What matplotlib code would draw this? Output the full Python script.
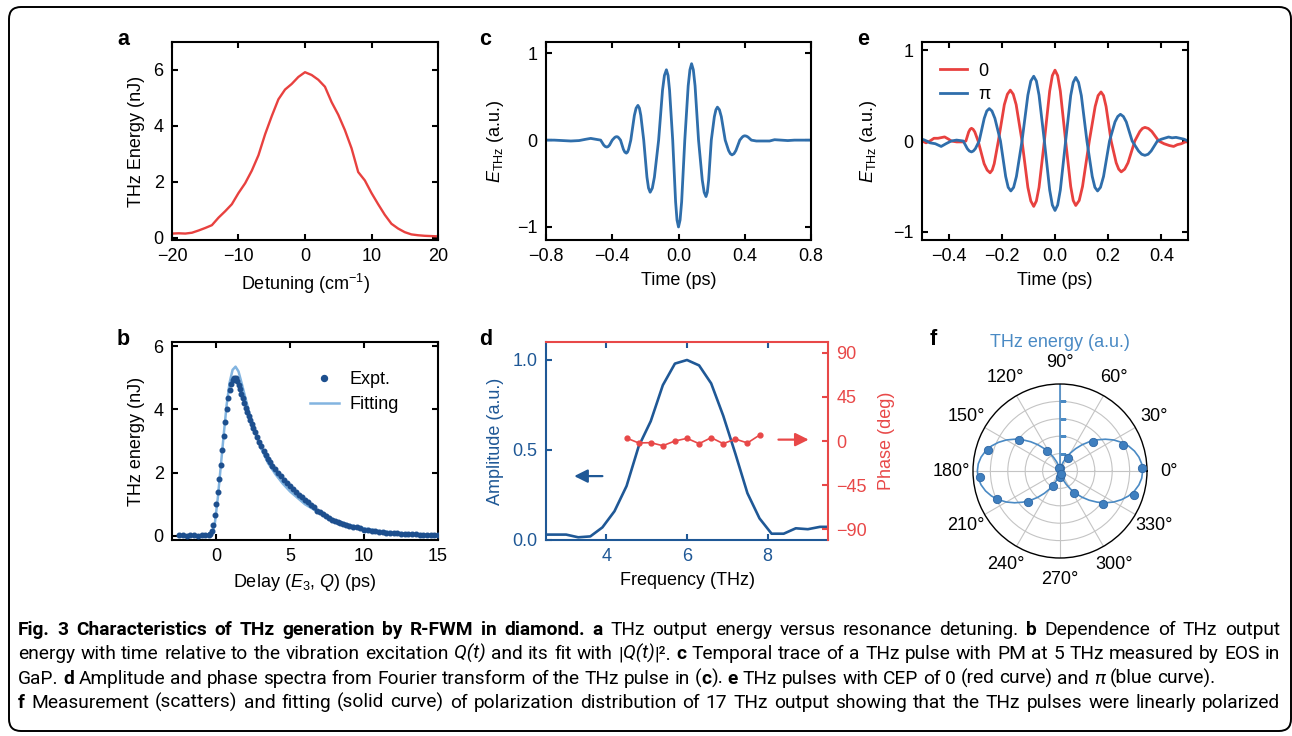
import re
import matplotlib
matplotlib.use("Agg")
import matplotlib.pyplot as plt
import numpy as np
from matplotlib import font_manager as fm
from matplotlib.patches import FancyBboxPatch
from matplotlib.transforms import IdentityTransform

# ---------------- data ----------------
# (a) THz energy vs detuning
a_detuning = [-20, -19, -18, -17, -16, -15, -14, -13, -12, -11, -10, -9, -8, -7, -6, -5, -4, -3, -2, -1,
              0, 1, 2, 3, 4, 5, 6, 7, 8, 9, 10, 11, 12, 13, 14, 15, 16, 17, 18, 19, 20]
a_energy = [0.15, 0.16, 0.15, 0.18, 0.26, 0.35, 0.45, 0.72, 0.95, 1.2, 1.6, 1.95, 2.4, 2.95, 3.7, 4.35, 4.95, 5.3, 5.5, 5.75,
            5.92, 5.82, 5.65, 5.4, 4.85, 4.4, 3.85, 3.2, 2.35, 2.05, 1.6, 1.2, 0.82, 0.5, 0.33, 0.2, 0.12, 0.09, 0.07, 0.06, 0.05]

# (b) THz energy vs delay: experiment and fit
b_delay = [-2.5, -2.25, -2.0, -1.75, -1.5, -1.25, -1.0, -0.75, -0.5, -0.4,
           -0.3, -0.2, -0.1, 0.0, 0.1, 0.2, 0.3, 0.4, 0.5, 0.6,
           0.7, 0.8, 0.9, 1.0, 1.1, 1.2, 1.3, 1.4, 1.5, 1.6,
           1.7, 1.8, 1.9, 2.0, 2.1, 2.2, 2.3, 2.4, 2.5, 2.6,
           2.75, 2.9, 3.05, 3.2, 3.35, 3.5, 3.65, 3.8, 4.0, 4.2,
           4.4, 4.6, 4.8, 5.0, 5.2, 5.4, 5.6, 5.8, 6.0, 6.2,
           6.4, 6.6, 6.8, 7.0, 7.2, 7.4, 7.6, 7.8, 8.0, 8.2,
           8.4, 8.6, 8.8, 9.0, 9.25, 9.5, 9.75, 10.0, 10.25, 10.5,
           10.75, 11.0, 11.25, 11.5, 11.75, 12.0, 12.25, 12.5, 12.75, 13.0,
           13.25, 13.5, 13.75, 14.0, 14.25, 14.5, 14.75, 15.0]
b_expt = [0.02, 0.02, 0.01, 0.02, 0.02, 0.01, 0.02, 0.02, 0.03, 0.06,
          0.15, 0.35, 0.65, 1.0, 1.38, 1.8, 2.25, 2.7, 3.15, 3.6,
          4.0, 4.35, 4.6, 4.8, 4.93, 5.0, 4.98, 4.9, 4.78, 4.64,
          4.5, 4.37, 4.2, 4.05, 3.93, 3.8, 3.66, 3.53, 3.42, 3.3,
          3.14, 2.98, 2.83, 2.68, 2.55, 2.44, 2.33, 2.22, 2.1, 1.98,
          1.88, 1.78, 1.67, 1.58, 1.48, 1.40, 1.30, 1.22, 1.14, 1.06,
          0.98, 0.9, 0.8, 0.74, 0.68, 0.62, 0.56, 0.5, 0.46, 0.43,
          0.4, 0.37, 0.34, 0.3, 0.28, 0.27, 0.24, 0.2, 0.18, 0.16,
          0.14, 0.12, 0.12, 0.1, 0.1, 0.09, 0.08, 0.07, 0.06, 0.06,
          0.05, 0.05, 0.04, 0.04, 0.03, 0.03, 0.03, 0.02]
b_fit_delay = [-2.5, -0.5, -0.3, -0.1, 0.1, 0.3, 0.5, 0.7, 0.9, 1.1, 1.3, 1.5, 1.7, 2.0, 2.3, 2.6,
               3.0, 3.5, 4.0, 4.5, 5.0, 5.5, 6.0, 7.0, 8.0, 9.0, 10.0, 11.0, 12.0, 13.0, 14.0, 15.0]
b_fit = [0.0, 0.0, 0.05, 0.4, 1.2, 2.2, 3.2, 4.15, 4.85, 5.25, 5.35, 5.2, 4.85, 4.3, 3.75, 3.3,
         2.8, 2.3, 1.95, 1.65, 1.4, 1.2, 1.0, 0.72, 0.5, 0.35, 0.24, 0.16, 0.11, 0.07, 0.05, 0.03]

# (c) THz pulse waveform
c_time = [-0.80, -0.75, -0.70, -0.65, -0.60, -0.56, -0.53, -0.50, -0.47,
          -0.4515, -0.442, -0.433, -0.425, -0.4165, -0.40,
          -0.3865, -0.380, -0.373, -0.367, -0.3615, -0.35,
          -0.3325, -0.324, -0.315, -0.308, -0.3015, -0.288,
          -0.2665, -0.256, -0.245, -0.236, -0.2275, -0.21,
          -0.1905, -0.181, -0.171, -0.158, -0.1455, -0.12,
          -0.0965, -0.085, -0.073, -0.063, -0.054, -0.035,
          -0.0175, -0.009, 0.0, 0.0095, 0.019, 0.038,
          0.0585, 0.069, 0.079, 0.0895, 0.100, 0.121,
          0.1435, 0.155, 0.166, 0.174, 0.182, 0.198,
          0.2165, 0.226, 0.235, 0.247, 0.2585, 0.282,
          0.3025, 0.313, 0.323, 0.335, 0.3465, 0.37,
          0.385, 0.3925, 0.40, 0.41, 0.42, 0.44,
          0.47, 0.50, 0.55, 0.58, 0.62, 0.66, 0.70, 0.75, 0.80]
c_field = [0.0, 0.0, -0.005, -0.01, -0.005, 0.01, 0.02, 0.01, 0.0,
           -0.057, -0.074, -0.08, -0.074, -0.057, 0.0,
           0.028, 0.037, 0.04, 0.037, 0.028, 0.0,
           -0.107, -0.138, -0.15, -0.138, -0.107, 0.0,
           0.284, 0.368, 0.40, 0.368, 0.284, 0.0,
           -0.426, -0.552, -0.60, -0.552, -0.426, 0.0,
           0.575, 0.745, 0.81, 0.745, 0.575, 0.0,
           -0.71, -0.92, -1.0, -0.92, -0.71, 0.0,
           0.625, 0.81, 0.88, 0.81, 0.625, 0.0,
           -0.46, -0.60, -0.65, -0.60, -0.46, 0.0,
           0.27, 0.35, 0.38, 0.35, 0.27, 0.0,
           -0.12, -0.156, -0.17, -0.156, -0.12, 0.0,
           0.035, 0.046, 0.05, 0.046, 0.035, 0.0,
           -0.01, -0.01, -0.01, 0.005, 0.0, -0.005, 0.0, 0.0, 0.0]

# (d) amplitude and phase spectra
d_freq = [2.5, 3.0, 3.3, 3.6, 3.9, 4.2, 4.5, 4.8, 5.1, 5.4, 5.7, 6.0, 6.3, 6.6, 6.9, 7.2, 7.5, 7.8, 8.1, 8.4, 8.7, 9.0, 9.3, 9.5]
d_amplitude = [0.03, 0.03, 0.015, 0.02, 0.07, 0.16, 0.30, 0.52, 0.66, 0.86, 0.98, 1.0, 0.97, 0.87, 0.69, 0.48, 0.26, 0.12,
               0.035, 0.035, 0.065, 0.06, 0.073, 0.073]
d_phase_freq = [4.5, 4.8, 5.1, 5.4, 5.7, 6.0, 6.3, 6.6, 6.9, 7.2, 7.5, 7.8]
d_phase = [3, -2, -1.7, -4.8, 0, 2.7, -2.7, 3.4, -2.7, 2, -2, 6]

# (e) CEP 0 and pi pulses
e_time_0 = [-0.50, -0.485, -0.47, -0.455, -0.44, -0.415, -0.40, -0.39, -0.37, -0.348, -0.335,
            -0.3245, -0.319, -0.314, -0.308, -0.3015, -0.289,
            -0.2665, -0.255, -0.244, -0.236, -0.2285, -0.213,
            -0.1905, -0.179, -0.168, -0.157, -0.146, -0.124,
            -0.102, -0.091, -0.080, -0.070, -0.060, -0.040,
            -0.020, -0.010, 0.0, 0.010, 0.020, 0.040,
            0.059, 0.0685, 0.078, 0.091, 0.1035, 0.129,
            0.151, 0.162, 0.173, 0.1825, 0.192, 0.211,
            0.230, 0.2395, 0.249, 0.262, 0.2745, 0.300,
            0.319, 0.3285, 0.338, 0.351, 0.364, 0.390,
            0.41, 0.43, 0.446, 0.46, 0.475, 0.49, 0.50]
e_field_0 = [0.0, -0.02, 0.0, 0.03, 0.03, 0.045, 0.02, 0.0, -0.01, -0.01, 0.0,
             0.10, 0.129, 0.14, 0.129, 0.10, 0.0,
             -0.25, -0.32, -0.35, -0.32, -0.25, 0.0,
             0.40, 0.515, 0.56, 0.515, 0.40, 0.0,
             -0.51, -0.66, -0.72, -0.66, -0.51, 0.0,
             0.55, 0.72, 0.78, 0.72, 0.55, 0.0,
             -0.50, -0.655, -0.71, -0.655, -0.50, 0.0,
             0.38, 0.50, 0.54, 0.50, 0.38, 0.0,
             -0.24, -0.31, -0.34, -0.31, -0.24, 0.0,
             0.105, 0.138, 0.15, 0.138, 0.105, 0.0,
             -0.03, -0.05, -0.06, -0.04, -0.03, -0.01, -0.01]
e_time_pi = [-0.50, -0.49, -0.47, -0.45, -0.428, -0.41, -0.39, -0.37, -0.345,
             -0.3295, -0.322, -0.314, -0.307, -0.2995, -0.285,
             -0.266, -0.2565, -0.247, -0.237, -0.226, -0.205,
             -0.1855, -0.176, -0.166, -0.1555, -0.145, -0.124,
             -0.102, -0.091, -0.080, -0.070, -0.060, -0.040,
             -0.020, -0.010, 0.0, 0.010, 0.020, 0.040,
             0.059, 0.0685, 0.078, 0.0885, 0.099, 0.120,
             0.140, 0.150, 0.160, 0.171, 0.1825, 0.205,
             0.2255, 0.236, 0.246, 0.257, 0.268, 0.290,
             0.314, 0.326, 0.338, 0.350, 0.3615, 0.385,
             0.40, 0.427, 0.44, 0.455, 0.47, 0.485, 0.50]
e_field_pi = [0.02, 0.01, -0.02, -0.03, -0.06, -0.03, 0.0, 0.01, 0.0,
              -0.085, -0.11, -0.12, -0.11, -0.085, 0.0,
              0.25, 0.33, 0.357, 0.33, 0.25, 0.0,
              -0.39, -0.51, -0.55, -0.51, -0.39, 0.0,
              0.505, 0.66, 0.713, 0.66, 0.505, 0.0,
              -0.54, -0.705, -0.765, -0.705, -0.54, 0.0,
              0.50, 0.645, 0.70, 0.645, 0.50, 0.0,
              -0.39, -0.51, -0.55, -0.51, -0.39, 0.0,
              0.21, 0.27, 0.294, 0.27, 0.21, 0.0,
              -0.11, -0.146, -0.158, -0.146, -0.11, 0.0,
              0.02, 0.044, 0.035, 0.04, 0.03, 0.02, 0.0]
e_labels = ["0", "\u03c0"]

# (f) polarization distribution
f_angle_meas = [2, 22, 41, 60, 82, 104, 123, 143, 164, 184, 204, 224, 246, 266, 287, 303, 322, 342]
f_energy_meas = [0.943, 0.787, 0.51, 0.177, 0.04, 0.03, 0.27, 0.59, 0.855, 0.925, 0.79, 0.51, 0.193, 0.07, 0.04,
                 0.306, 0.625, 0.89]
f_angle_fit = [0, 5, 10, 15, 20, 25, 30, 35, 40, 45, 50, 55, 60, 65, 70, 75, 80, 85, 90,
               95, 100, 105, 110, 115, 120, 125, 130, 135, 140, 145, 150, 155, 160, 165, 170, 175, 180,
               185, 190, 195, 200, 205, 210, 215, 220, 225, 230, 235, 240, 245, 250, 255, 260, 265, 270,
               275, 280, 285, 290, 295, 300, 305, 310, 315, 320, 325, 330, 335, 340, 345, 350, 355, 360]
f_energy_fit = [0.95, 0.943, 0.921, 0.886, 0.839, 0.780, 0.713, 0.637, 0.557, 0.475, 0.393, 0.313, 0.238, 0.170,
                0.111, 0.064, 0.029, 0.007, 0.0,
                0.007, 0.029, 0.064, 0.111, 0.170, 0.238, 0.313, 0.393, 0.475, 0.557, 0.637, 0.713, 0.780,
                0.839, 0.886, 0.921, 0.943, 0.95,
                0.943, 0.921, 0.886, 0.839, 0.780, 0.713, 0.637, 0.557, 0.475, 0.393, 0.313, 0.238, 0.170,
                0.111, 0.064, 0.029, 0.007, 0.0,
                0.007, 0.029, 0.064, 0.111, 0.170, 0.238, 0.313, 0.393, 0.475, 0.557, 0.637, 0.713, 0.780,
                0.839, 0.886, 0.921, 0.943, 0.95]

caption_lines = [
    [("Fig. 3 Characteristics of THz generation by R-FWM in diamond.", "b"), (" ", "n"), ("a", "b"),
     (" THz output energy versus resonance detuning. ", "n"), ("b", "b"), (" Dependence of THz output", "n")],
    [("energy with time relative to the vibration excitation ", "n"), ("Q(t)", "i"), (" and its fit with |", "n"),
     ("Q(t)", "i"), ("|\u00b2. ", "n"), ("c", "b"),
     (" Temporal trace of a THz pulse with PM at 5 THz measured by EOS in", "n")],
    [("GaP. ", "n"), ("d", "b"), (" Amplitude and phase spectra from Fourier transform of the THz pulse in (", "n"),
     ("c", "b"), ("). ", "n"), ("e", "b"), (" THz pulses with CEP of 0 (red curve) and ", "n"), ("\u03c0", "i"),
     (" (blue curve).", "n")],
    [("f", "b"), (" Measurement (scatters) and fitting (solid curve) of polarization distribution of 17 THz output "
                  "showing that the THz pulses were linearly polarized", "n")],
]

# ---------------- style ----------------
FONT = "Liberation Sans"
plt.rcParams["font.family"] = [FONT, "DejaVu Sans"]
plt.rcParams["mathtext.fontset"] = "custom"
plt.rcParams["mathtext.rm"] = FONT
plt.rcParams["mathtext.it"] = FONT + ":italic"
plt.rcParams["mathtext.bf"] = FONT + ":bold"
plt.rcParams["font.size"] = 13
plt.rcParams["axes.unicode_minus"] = True

RED = "#e8413f"
BLUE_C = "#2f6eab"
BLUE_B = "#1d4f8e"
BLUE_FIT = "#82b4e0"
BLUE_D = "#1f5896"
RED_D = "#e84848"
BLUE_F = "#4a8ac4"

W, H = 1292, 736
fig = plt.figure(figsize=(W / 100, H / 100), dpi=100)


def px_axes(l, t, r, b, **kw):
    return fig.add_axes([l / W, 1 - b / H, (r - l) / W, (b - t) / H], **kw)


def style(ax):
    for s in ax.spines.values():
        s.set_linewidth(1.5)
    ax.tick_params(direction="in", length=4.5, width=1.5, top=True, right=True, labelsize=13, pad=6)


# ---- a ----
ax = px_axes(172, 42, 438, 240)
ax.plot(a_detuning, a_energy, color=RED, lw=1.7)
ax.set_xlim(-20, 20)
ax.set_ylim(-0.08, 7)
ax.set_xticks([-20, -10, 0, 10, 20])
ax.set_yticks([0, 2, 4, 6])
style(ax)
ax.set_ylabel("THz Energy (nJ)", labelpad=6)
ax.set_xlabel("Detuning (cm$^{-1}$)", labelpad=5)

# ---- b ----
ax = px_axes(172, 342, 438, 540)
ax.plot(b_fit_delay, b_fit, color=BLUE_FIT, lw=1.8, label="Fitting", zorder=2)
ax.plot(b_delay, b_expt, ls="none", marker="o", ms=3.3, color=BLUE_B, label="Expt.", zorder=3)
ax.set_xlim(-3, 15)
ax.set_ylim(-0.13, 6.13)
ax.set_xticks([0, 5, 10, 15])
ax.set_yticks([0, 2, 4, 6])
style(ax)
ax.set_ylabel("THz energy (nJ)", labelpad=6)
ax.set_xlabel("Delay ($\\mathit{E}_3$, $\\mathit{Q}$) (ps)", labelpad=5)
h, l = ax.get_legend_handles_labels()
ax.legend(h[::-1], l[::-1], loc="upper left", bbox_to_anchor=(0.485, 0.9), frameon=False, fontsize=13,
          handlelength=1.6, handletextpad=0.6, labelspacing=0.45, borderpad=0, markerscale=1.3)

# ---- c ----
ax = px_axes(546, 42, 811, 240)
ax.plot(c_time, c_field, color=BLUE_C, lw=2.0)
ax.set_xlim(-0.8, 0.8)
ax.set_ylim(-1.15, 1.13)
ax.set_xticks([-0.8, -0.4, 0.0, 0.4, 0.8])
ax.set_xticklabels(["\u22120.8", "\u22120.4", "0.0", "0.4", "0.8"])
ax.set_yticks([-1, 0, 1])
style(ax)
ax.set_ylabel("$E_{\\mathrm{THz}}$ (a.u.)", labelpad=8)
ax.set_xlabel("Time (ps)", labelpad=5)

# ---- d ----
ax = px_axes(546, 342, 828, 540)
ax.plot(d_freq, d_amplitude, color=BLUE_D, lw=1.9)
ax.set_xlim(2.5, 9.5)
ax.set_ylim(0, 1.1)
ax.set_xticks([4, 6, 8])
ax.set_yticks([0, 0.5, 1.0])
ax.set_yticklabels(["0.0", "0.5", "1.0"])
for s in ax.spines.values():
    s.set_linewidth(1.5)
ax.spines["left"].set_color(BLUE_D)
ax.spines["bottom"].set_color(BLUE_D)
ax.spines["top"].set_visible(False)
ax.spines["right"].set_visible(False)
ax.tick_params(direction="in", length=4.5, width=1.5, labelsize=13, pad=6, colors=BLUE_D, top=True, right=False)
ax.set_xlabel("Frequency (THz)", labelpad=5, color="black")
ax.set_ylabel("Amplitude (a.u.)", color=BLUE_D, labelpad=6)
for t in ax.xaxis.get_major_ticks():
    t.tick2line.set_color(RED_D)
ax.annotate("", xy=(3.2, 0.355), xytext=(3.9, 0.355),
            arrowprops=dict(arrowstyle="-|>,head_length=0.5,head_width=0.25", color=BLUE_D, lw=1.6,
                            mutation_scale=16, shrinkA=0, shrinkB=0))
ax2 = ax.twinx()
ax2.plot(d_phase_freq, d_phase, color=RED_D, lw=1.2, marker="o", ms=3.5)
ax2.set_ylim(-101, 101)
ax2.set_yticks([-90, -45, 0, 45, 90])
for s in ax2.spines.values():
    s.set_linewidth(1.5)
ax2.spines["left"].set_visible(False)
ax2.spines["bottom"].set_visible(False)
ax2.spines["right"].set_color(RED_D)
ax2.spines["top"].set_color(RED_D)
ax2.tick_params(axis="y", direction="in", length=4.5, width=1.5, labelsize=13, pad=6, colors=RED_D)
ax2.set_ylabel("Phase (deg)", color=RED_D, labelpad=8)
ax2.annotate("", xy=(9.02, 1.4), xytext=(8.27, 1.4),
             arrowprops=dict(arrowstyle="-|>,head_length=0.5,head_width=0.25", color=RED_D, lw=1.6,
                             mutation_scale=16, shrinkA=0, shrinkB=0))

# ---- e ----
ax = px_axes(922, 42, 1188, 240)
ax.plot(e_time_0, e_field_0, color=RED, lw=2.0, label=e_labels[0])
ax.plot(e_time_pi, e_field_pi, color=BLUE_C, lw=2.0, label=e_labels[1])
ax.set_xlim(-0.5, 0.5)
ax.set_ylim(-1.09, 1.09)
ax.set_xticks([-0.4, -0.2, 0.0, 0.2, 0.4])
ax.set_xticklabels(["\u22120.4", "\u22120.2", "0.0", "0.2", "0.4"])
ax.set_yticks([-1, 0, 1])
style(ax)
ax.set_ylabel("$E_{\\mathrm{THz}}$ (a.u.)", labelpad=10)
ax.set_xlabel("Time (ps)", labelpad=5)
ax.legend(loc="upper left", bbox_to_anchor=(0.02, 0.96), frameon=False, fontsize=13, handlelength=1.5,
          handletextpad=0.6, labelspacing=0.35, borderpad=0.2)

# ---- f ----
axp = px_axes(973, 384, 1147, 558, projection="polar")
axp.plot(np.deg2rad(f_angle_fit), f_energy_fit, color=BLUE_F, lw=1.2, zorder=3)
axp.plot(np.deg2rad(f_angle_meas), f_energy_meas, ls="none", marker="o", ms=6, color="#3f7fbf",
         mec="#2e66a3", mew=0.6, zorder=4)
axp.plot([np.pi / 2, np.pi / 2], [0, 1], color=BLUE_F, lw=1.2, zorder=2)
axp.plot([np.pi / 2] * 4, [0.2, 0.4, 0.6, 0.8], ls="none", marker=1, ms=4, mew=1.0, color=BLUE_F, zorder=2)
axp.set_ylim(0, 1)
axp.set_rticks([0.2, 0.4, 0.6, 0.8])
axp.set_yticklabels([])
axp.set_thetagrids(range(0, 360, 30), labels=[f"{a}\u00b0" for a in range(0, 360, 30)])
axp.grid(color="#c4c4c4", lw=0.8)
axp.spines["polar"].set_linewidth(1.0)
axp.tick_params(axis="x", labelsize=13, pad=5)
fig.text(1060 / W, 1 - 343 / H, "THz energy (a.u.)", color=BLUE_F, ha="center", va="center", fontsize=13)

# ---- panel letters ----
for letter, x, y in [("a", 117, 45), ("b", 117, 345), ("c", 479, 45), ("d", 479, 345), ("e", 857, 45),
                     ("f", 930, 345)]:
    fig.text(x / W, 1 - y / H, letter, fontsize=15.5, fontweight="bold", ha="left", va="baseline")

# ---- border ----
fig.patches.append(FancyBboxPatch((9, H - 731), 1282, 724, boxstyle="round,pad=0,rounding_size=12",
                                  transform=IdentityTransform(), fill=False, ec="black", lw=1.4, figure=fig))

# ---- caption ----
names = {f.name for f in fm.fontManager.ttflist}
CAP_FONT = FONT
for cand in ["Roboto", "Liberation Sans Narrow", "Roboto Condensed"]:
    if cand in names:
        CAP_FONT = cand
        break
renderer = fig.canvas.get_renderer()


def cap_props(st, fs):
    return dict(family=[CAP_FONT, "DejaVu Sans"], fontsize=fs,
                fontweight="bold" if st == "b" else "normal",
                fontstyle="italic" if st == "i" else "normal")


def text_width(s, st, fs):
    t = fig.text(0, 0, s, **cap_props(st, fs))
    w = t.get_window_extent(renderer).width
    t.remove()
    return w


def words_of(frags):
    words = []
    space = True
    for text, st in frags:
        for part in re.split(r"( +)", text):
            if not part:
                continue
            if part.strip() == "":
                space = True
                continue
            if space or not words:
                words.append([(part, st)])
            else:
                words[-1].append((part, st))
            space = False
    return words


X0, X1 = 18, 1280
target = X1 - X0
base_fs = 13.5
nat = []
for frags in caption_lines:
    ws = words_of(frags)
    sw = text_width("a a", "n", base_fs) - text_width("aa", "n", base_fs)
    tot = sum(text_width(p, st, base_fs) for w in ws for p, st in w) + sw * (len(ws) - 1)
    nat.append(tot)
fs = min(14.3, base_fs * 0.99 * target / max(nat[0], nat[1], nat[3]))
baselines = [635, 659, 684, 708]
justify = [True, True, False, True]
for frags, yb, just in zip(caption_lines, baselines, justify):
    ws = words_of(frags)
    widths = [[text_width(p, st, fs) for p, st in w] for w in ws]
    sw = text_width("a a", "n", fs) - text_width("aa", "n", fs)
    total_words = sum(sum(w) for w in widths)
    gap = (target - total_words) / (len(ws) - 1) if just else sw
    x = X0
    for w, wl in zip(ws, widths):
        for (p, st), pw in zip(w, wl):
            fig.text(x / W, 1 - yb / H, p, ha="left", va="baseline", **cap_props(st, fs))
            x += pw
        x += gap

fig.savefig("out.png", dpi=100)
